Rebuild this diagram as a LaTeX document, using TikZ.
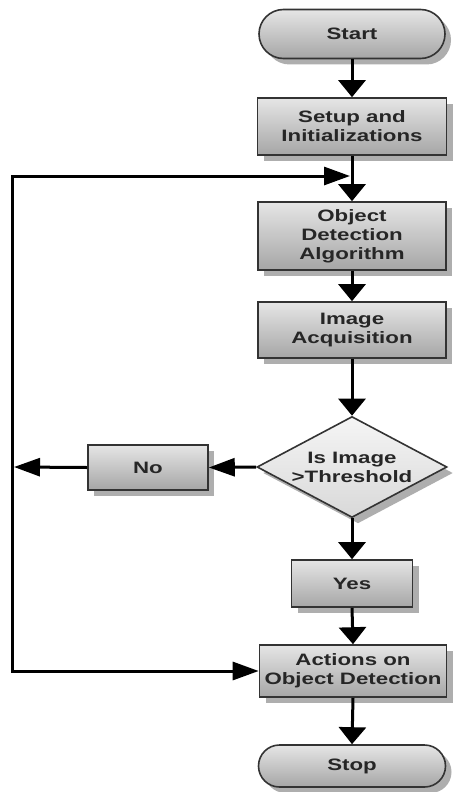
\documentclass[tikz,border=0pt]{standalone}
\usepackage{fontspec}
\setmainfont{Liberation Sans}[FakeStretch=1.35]
\usetikzlibrary{arrows.meta,shapes.geometric,shapes.misc,shadows}
\begin{document}
\begin{tikzpicture}[x=1pt,y=-1pt,
  box/.style={rectangle, draw=black!80, line width=1.6pt, top color=gray!20, bottom color=gray!70,
    text=black!85, font=\fontsize{16.5}{19}\selectfont\bfseries, align=center, inner sep=2pt,
    drop shadow={shadow xshift=6pt, shadow yshift=-6pt, fill=black!45, opacity=0.7}},
  term/.style={box, rounded rectangle},
  dec/.style={box, diamond, aspect=1.88, inner sep=0pt, top color=gray!8, bottom color=gray!30},
  line/.style={line width=3pt, black},
  varr/.style={line, -{Triangle[length=17pt,width=27pt]}},
  harr/.style={line, -{Triangle[length=26pt,width=18pt]}}]
\useasboundingbox (0,0) rectangle (454,792);
\fill[white] (0,0) rectangle (454,792);
\node[term, minimum width=190pt, minimum height=49pt] (start) at (352,34) {Start};
\node[box, minimum width=189pt, minimum height=57pt] (setup) at (352,126.5) {Setup and\\Initializations};
\node[box, minimum width=188pt, minimum height=68pt] (obj) at (352,236) {Object\\Detection\\Algorithm};
\node[box, minimum width=188pt, minimum height=56pt] (img) at (352,330) {Image\\Acquisition};
\node[dec, minimum width=190pt, minimum height=101pt] (dia) at (352,467) {Is Image\\>Threshold};
\node[box, minimum width=120pt, minimum height=45pt] (no) at (148,467.5) {No};
\node[box, minimum width=121pt, minimum height=47pt] (yes) at (352,583.5) {Yes};
\node[box, minimum width=187pt, minimum height=52pt] (act) at (353,671) {Actions on\\Object Detection};
\node[term, minimum width=191pt, minimum height=42pt] (stop) at (352,766) {Stop};
\coordinate (lb) at (12,671);
\coordinate (jn) at (350,176);
\coordinate (lm) at (14,467);
\draw[varr] (start.south) -- (setup.north);
\draw[varr] (setup.south) -- (obj.north);
\draw[varr] (obj.south) -- (img.north);
\draw[varr] (img.south) -- (dia.north);
\draw[harr] (dia.west) -- (no.east);
\draw[harr] (no.west) -- (lm);
\draw[varr] (dia.south) -- (yes.north);
\draw[varr] (yes.south) -- (act.north);
\draw[varr] (act.south) -- (stop.north);
\draw[harr, line cap=rect] (lb) |- (jn);
\draw[harr, line cap=rect] (lb) -- (act.west);
\end{tikzpicture}
\end{document}
